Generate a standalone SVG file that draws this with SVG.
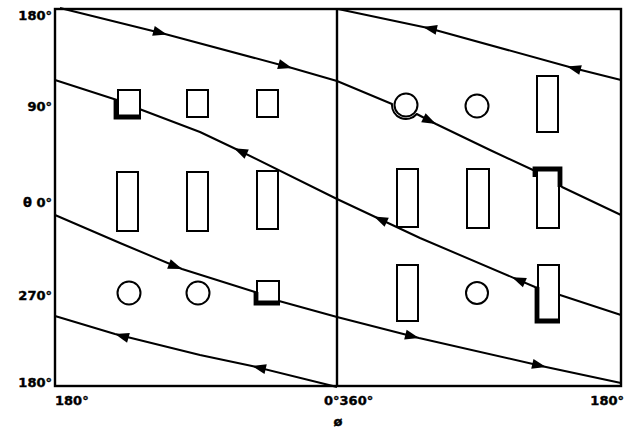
<svg xmlns="http://www.w3.org/2000/svg" xmlns:xlink="http://www.w3.org/1999/xlink" width="624" height="429" viewBox="0 0 624 429">
<style>
.ax{fill:none;stroke:#000;stroke-width:2.4}
.cv{fill:none;stroke:#000;stroke-width:2;stroke-linejoin:round}
.nd{fill:#fff;stroke:#000;stroke-width:2}
.tk{fill:none;stroke:#000;stroke-width:4.8;stroke-linejoin:miter;stroke-linecap:butt}
.lb{font-family:"DejaVu Sans","Liberation Sans",sans-serif;font-weight:bold;font-size:13px;fill:#000;stroke:#000;stroke-width:0.4}
</style>
<defs>
<path id="ah" d="M0,0 L-14,-5 L-14,5 Z" fill="#000"/>
</defs>
<rect width="624" height="429" fill="#fff"/>
<g id="frame">
<rect class="ax" x="55" y="9" width="566" height="377"/>
<line class="ax" x1="337" y1="9" x2="337" y2="386"/>
</g>
<g id="labels">
<text class="lb" x="52" y="20" text-anchor="end">180°</text>
<text class="lb" x="52" y="111" text-anchor="end">90°</text>
<text class="lb" x="52" y="207" text-anchor="end">θ 0°</text>
<text class="lb" x="52" y="300" text-anchor="end">270°</text>
<text class="lb" x="52" y="387" text-anchor="end">180°</text>
<text class="lb" x="55" y="405">180°</text>
<text class="lb" x="324" y="405">0°360°</text>
<text class="lb" x="624" y="405" text-anchor="end">180°</text>
<text class="lb" x="338" y="426" text-anchor="middle" font-size="16">ø</text>
</g>
<g id="connectors">
<path class="cv" d="M60,8 L165,34 L292,68 L337,81 L392,104 A14 14 0 0 0 416.7,114 L436,124 L490,150 L533,170 L562,187 L621,215"/>
<path class="cv" d="M338,9 L428,28 L573,68 L621,80"/>
<path class="cv" d="M55,80 L117,100 L142,110 L200,132 L240,151 L337,199 L420,238 L535,287 L560,295 L621,315"/>
<path class="cv" d="M55,215 L120,243 L182,269 L255,292 L279,301 L337,317 L419,338 L546,367 L621,383"/>
<path class="cv" d="M55,316 L115,334 L200,355 L252,366 L337,387"/>
<use xlink:href="#ah" transform="translate(167,34.5) rotate(15)"/>
<use xlink:href="#ah" transform="translate(292,68) rotate(16)"/>
<use xlink:href="#ah" transform="translate(436,124) rotate(26)"/>
<use xlink:href="#ah" transform="translate(423,27) rotate(192)"/>
<use xlink:href="#ah" transform="translate(567,66.4) rotate(195)"/>
<use xlink:href="#ah" transform="translate(234,148.2) rotate(205)"/>
<use xlink:href="#ah" transform="translate(374,216.4) rotate(205)"/>
<use xlink:href="#ah" transform="translate(512,277.2) rotate(203)"/>
<use xlink:href="#ah" transform="translate(182,269) rotate(21)"/>
<use xlink:href="#ah" transform="translate(419,338) rotate(14)"/>
<use xlink:href="#ah" transform="translate(546,367) rotate(13)"/>
<use xlink:href="#ah" transform="translate(115,334) rotate(196)"/>
<use xlink:href="#ah" transform="translate(252,366) rotate(193)"/>
</g>
<g id="n-l90-1"><rect class="nd" x="118" y="90" width="22" height="27"/><path class="tk" d="M116,100 V117 H141"/></g>
<g id="n-l90-2"><rect class="nd" x="187" y="90" width="21" height="27"/></g>
<g id="n-l90-3"><rect class="nd" x="257" y="90" width="21" height="27"/></g>
<g id="n-l0-1"><rect class="nd" x="117" y="172" width="21" height="59"/></g>
<g id="n-l0-2"><rect class="nd" x="187" y="172" width="21" height="59"/></g>
<g id="n-l0-3"><rect class="nd" x="257" y="171" width="21" height="58"/></g>
<g id="n-l270-1"><circle class="nd" cx="129" cy="293" r="11.5"/></g>
<g id="n-l270-2"><circle class="nd" cx="198" cy="293" r="11.5"/></g>
<g id="n-l270-3"><rect class="nd" x="257" y="281" width="22" height="22"/><path class="tk" d="M256,292 V303 H280"/></g>
<g id="n-r90-1"><circle class="nd" cx="406" cy="105" r="11.5"/></g>
<g id="n-r90-2"><circle class="nd" cx="477" cy="106" r="11.5"/></g>
<g id="n-r90-3"><rect class="nd" x="537" y="76" width="21" height="56"/></g>
<g id="n-r0-1"><rect class="nd" x="397" y="169" width="21" height="58"/></g>
<g id="n-r0-2"><rect class="nd" x="467" y="169" width="22" height="59"/></g>
<g id="n-r0-3"><rect class="nd" x="537" y="170" width="22" height="58"/><path class="tk" d="M535,177 V169 H560 V187"/></g>
<g id="n-r270-1"><rect class="nd" x="397" y="265" width="21" height="56"/></g>
<g id="n-r270-2"><circle class="nd" cx="477" cy="293" r="11"/></g>
<g id="n-r270-3"><rect class="nd" x="538" y="265" width="21" height="56"/><path class="tk" d="M537,287 V321 H560"/></g>
</svg>
